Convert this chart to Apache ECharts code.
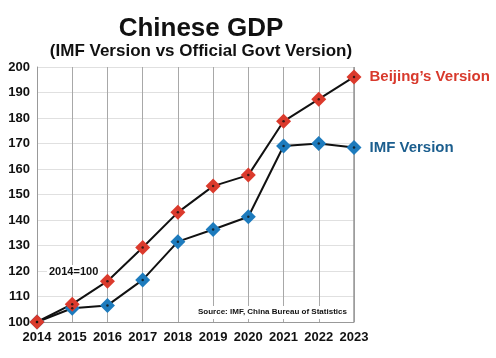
<!DOCTYPE html>
<html><head><meta charset="utf-8">
<script src="https://cdn.jsdelivr.net/npm/echarts@6/dist/echarts.min.js"></script>
<style>html,body{margin:0;padding:0;background:#fff}#c{width:496px;height:358px}</style>
</head><body><div id="c"></div>
<script>
const years = ['2014','2015','2016','2017','2018','2019','2020','2021','2022','2023'];
const beijing = [100, 107, 116, 129.2, 143, 153.3, 157.6, 178.7, 187.4, 196.1];
const imf = [100, 105.4, 106.5, 116.5, 131.5, 136.3, 141.3, 169, 170, 168.4];
const yTicks = [100, 110, 120, 130, 140, 150, 160, 170, 180, 190, 200];

const F = 'Liberation Sans, Arial, Helvetica, sans-serif';
const chart = echarts.init(document.getElementById('c'), null, {renderer: 'canvas'});
function mkSeries(name, data, color, textColor, labelText) {
  const last = data.length - 1;
  return {
    name, type: 'line', data,
    symbol: 'diamond', symbolSize: 15,
    lineStyle: {color: '#111', width: 2},
    itemStyle: {color: color, borderColor: color, borderWidth: 0},
    label: {
      show: true, position: 'right', distance: 8,
      formatter: p => p.dataIndex === last ? labelText : '',
      color: textColor, fontFamily: F, fontWeight: 'bold', fontSize: 15
    },
    z: 3
  };
}
function dots(data) {
  return {
    type: 'scatter', data, symbol: 'circle', symbolSize: 2.5,
    itemStyle: {color: '#111'}, z: 5, silent: true
  };
}
chart.setOption({
  animation: false,
  backgroundColor: '#fff',
  title: [
    {text: 'Chinese GDP', left: 196, top: 11, textAlign: 'center',
     textStyle: {fontFamily: F, fontWeight: 'bold', fontSize: 26, color: '#111'}},
    {text: '(IMF Version vs Official Govt Version)', left: 196, top: 38, textAlign: 'center',
     textStyle: {fontFamily: F, fontWeight: 'bold', fontSize: 17, color: '#111'}}
  ],
  grid: {left: 37, right: 142, top: 67, bottom: 36},
  xAxis: {
    type: 'category', data: years, boundaryGap: false,
    axisLine: {lineStyle: {color: '#999', width: 1}},
    axisTick: {show: false},
    axisLabel: {interval: 0, color: '#111', fontFamily: F, fontWeight: 'bold', fontSize: 13, margin: 9},
    splitLine: {show: true, interval: 0, lineStyle: {color: '#a8a8a8', width: 1}}
  },
  yAxis: {
    type: 'value', min: yTicks[0], max: yTicks[yTicks.length - 1], interval: 10,
    axisLine: {show: true, lineStyle: {color: '#999'}},
    axisTick: {show: false},
    axisLabel: {color: '#111', fontFamily: F, fontWeight: 'bold', fontSize: 13, margin: 7},
    splitLine: {show: true, lineStyle: {color: '#e0e0e0', width: 1}}
  },
  graphic: [
    {type: 'rect', z: 2, shape: {x: 354, y: 67, width: 0, height: 255}, style: {stroke: '#999', lineWidth: 1, fill: null}},
    {type: 'rect', z: 2, shape: {x: 47, y: 265, width: 53, height: 14}, style: {fill: '#fff'}},
    {type: 'text', z: 3, left: 49, top: 266, style: {text: '2014=100', font: 'bold 11px ' + F, fill: '#111'}},
    {type: 'rect', z: 2, shape: {x: 196, y: 306, width: 152, height: 13}, style: {fill: '#fff'}},
    {type: 'text', z: 3, left: 198, top: 308, style: {text: 'Source: IMF, China Bureau of Statistics', font: 'bold 8px ' + F, fill: '#111'}}
  ],
  series: [
    mkSeries('IMF', imf, '#1d7bbd', '#1b5e8e', 'IMF Version'),
    mkSeries('Beijing', beijing, '#db3a2c', '#d8392c', 'Beijing\u2019s Version'),
    dots(beijing), dots(imf)
  ]
});
</script></body></html>
